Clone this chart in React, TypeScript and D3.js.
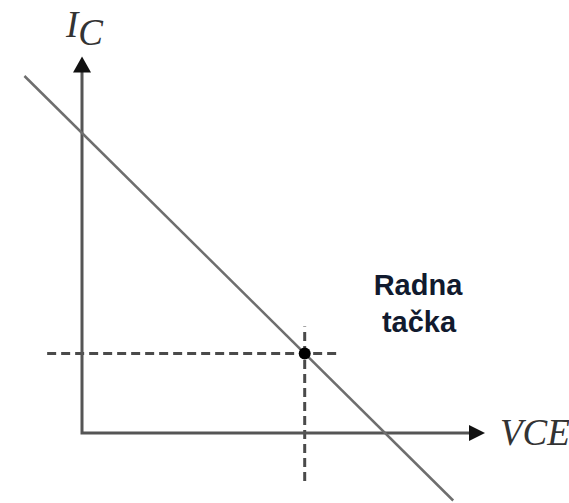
import React from "react";
import * as d3 from "d3";

const W = 569;
const H = 503;

// Load line: Ic = Icc - Vce (Vcc = Icc = 10 units), drawn beyond the axes
const loadLineVce = [-1.9, 12.25];
const supplyValue = 10;
// Operating point (Radna tačka)
const qPointVce = [7.35];
const qPointIc = [2.65];
// Axes extents
const xAxisExtent = [0, 13.3];
const yAxisExtent = [0, 12.55];
// Dashed projections extents
const hDashExtent = [-1.15, 8.4];
const vDashExtent = [-1.6, 3.55];
const axisLabels = ["I", "C", "V", "CE"];
const pointLabel = ["Radna", "tačka"];

export default function App() {
  const x = d3.scaleLinear().domain([0, 10]).range([82, 385]);
  const y = d3.scaleLinear().domain([0, 10]).range([433, 133]);
  const line = d3
    .line<[number, number]>()
    .x((d) => x(d[0]))
    .y((d) => y(d[1]));
  const loadPts: [number, number][] = loadLineVce.map((v) => [v, supplyValue - v]);
  const qx = x(qPointVce[0]);
  const qy = y(qPointIc[0]);
  const axisColor = "#555";
  const arrowX = x(xAxisExtent[1]);
  const arrowY = y(yAxisExtent[1]);
  const serif = "'Liberation Serif', 'DejaVu Serif', serif";
  return (
    <svg
      width={W}
      height={H}
      style={{ position: "absolute", left: 0, top: 0, background: "#fff" }}
    >
      {/* dashed projections */}
      <path
        d={line([
          [hDashExtent[0], qPointIc[0]],
          [hDashExtent[1], qPointIc[0]],
        ])!}
        stroke="#4a4a4a"
        strokeWidth={3}
        strokeDasharray="9,5"
        fill="none"
      />
      <path
        d={line([
          [qPointVce[0], vDashExtent[0]],
          [qPointVce[0], vDashExtent[1]],
        ])!}
        stroke="#4a4a4a"
        strokeWidth={3}
        strokeDasharray="9,5"
        fill="none"
      />
      {/* axes */}
      <path
        d={line([
          [0, yAxisExtent[1] - 0.5],
          [0, 0],
          [xAxisExtent[1] - 0.5, 0],
        ])!}
        stroke={axisColor}
        strokeWidth={3}
        fill="none"
      />
      <path
        d={`M${arrowX},${y(0)} L${arrowX - 16},${y(0) - 8} L${arrowX - 16},${y(0) + 8} Z`}
        fill="#111"
      />
      <path
        d={`M${x(0)},${arrowY} L${x(0) - 9},${arrowY + 16} L${x(0) + 9},${arrowY + 16} Z`}
        fill="#111"
      />
      {/* load line */}
      <path d={line(loadPts)!} stroke="#6e6e6e" strokeWidth={2.5} fill="none" />
      {/* Q point */}
      <circle cx={qx} cy={qy} r={6} fill="#000" />
      {/* labels */}
      <text x={66} y={37} fontFamily={serif} fontStyle="italic" fontSize={37} fill="#333">
        {axisLabels[0]}
        <tspan dy={8}>{axisLabels[1]}</tspan>
      </text>
      <text x={500} y={445} fontFamily={serif} fontStyle="italic" fontSize={37} fill="#333">
        {axisLabels[2]}
        {axisLabels[3]}
      </text>
      <text
        x={418}
        y={295}
        textAnchor="middle"
        fontFamily="'Liberation Sans', Arial, sans-serif"
        fontWeight="bold"
        fontSize={29}
        fill="#111a2e"
      >
        {pointLabel[0]}
      </text>
      <text
        x={419}
        y={332}
        textAnchor="middle"
        fontFamily="'Liberation Sans', Arial, sans-serif"
        fontWeight="bold"
        fontSize={29}
        fill="#111a2e"
      >
        {pointLabel[1]}
      </text>
    </svg>
  );
}
